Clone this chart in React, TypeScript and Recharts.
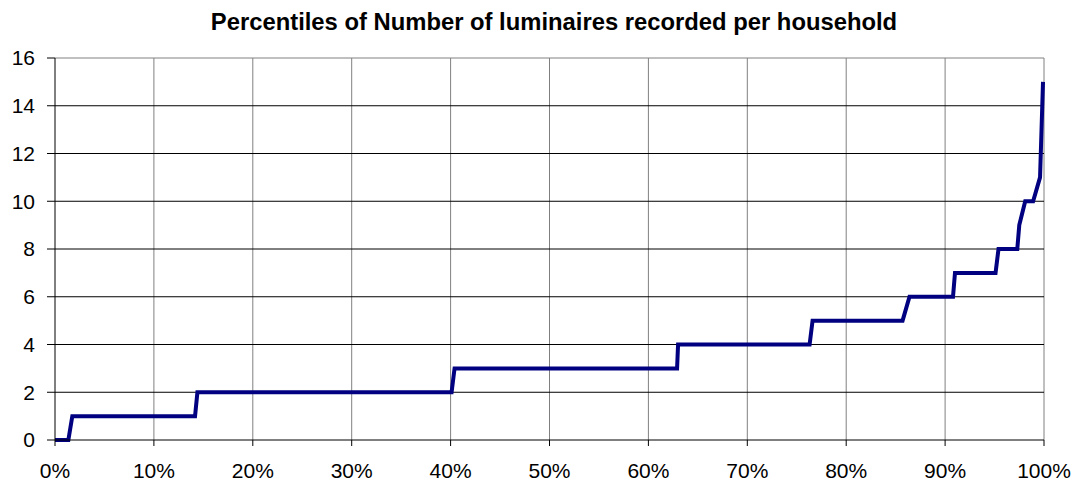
import { CartesianGrid, Line, LineChart, XAxis, YAxis } from 'recharts';

// Percentile (fraction 0..1) and number of luminaires at that percentile.
const PERCENTILES = [
  0, 0.0135, 0.0175, 0.1416, 0.144, 0.401, 0.404, 0.629, 0.630, 0.763, 0.766,
  0.857, 0.864, 0.908, 0.910, 0.951, 0.954, 0.973, 0.975, 0.981, 0.989, 0.996, 0.999,
];
const LUMINAIRES = [
  0, 0, 1, 1, 2, 2, 3, 3, 4, 4, 5,
  5, 6, 6, 7, 7, 8, 8, 9, 10, 10, 11, 15,
];
const X_TICKS = [0, 0.1, 0.2, 0.3, 0.4, 0.5, 0.6, 0.7, 0.8, 0.9, 1];
const Y_TICKS = [0, 2, 4, 6, 8, 10, 12, 14, 16];
const TITLE = 'Percentiles of Number of luminaires recorded per household';

const data = PERCENTILES.map((p, i) => ({ p, v: LUMINAIRES[i] }));

const FONT = '"Liberation Sans", Arial, sans-serif';
const tickStyle = { fontSize: 21, fill: '#000', fontFamily: FONT };

export default function App() {
  return (
    <div style={{ position: 'absolute', left: 0, top: 0, width: 1076, height: 483, background: '#fff' }}>
      <div
        style={{
          position: 'absolute',
          left: 0,
          width: 1108,
          top: 8,
          textAlign: 'center',
          fontFamily: FONT,
          fontWeight: 'bold',
          fontSize: 23.8,
          lineHeight: '28px',
          color: '#000',
        }}
      >
        {TITLE}
      </div>
      <LineChart
        width={1076}
        height={483}
        data={data}
        margin={{ top: 58, right: 32, bottom: 0, left: 0 }}
      >
        <CartesianGrid
          horizontal={false}
          stroke="#808080"
          verticalValues={X_TICKS.slice(1)}
        />
        <CartesianGrid
          vertical={false}
          stroke="#000"
          horizontalValues={[2, 4, 6, 8, 10, 12, 14]}
        />
        <CartesianGrid vertical={false} stroke="#808080" horizontalValues={[16]} />
        <XAxis
          dataKey="p"
          type="number"
          domain={[0, 1]}
          ticks={X_TICKS}
          interval={0}
          height={43}
          tickSize={6}
          tickMargin={17}
          axisLine={{ stroke: '#000' }}
          tickLine={{ stroke: '#000' }}
          tick={tickStyle}
          tickFormatter={(v) => `${Math.round(v * 100)}%`}
        />
        <YAxis
          type="number"
          domain={[0, 16]}
          ticks={Y_TICKS}
          interval={0}
          width={55}
          tickSize={8}
          tickMargin={12}
          axisLine={{ stroke: '#000' }}
          tickLine={{ stroke: '#000' }}
          tick={tickStyle}
        />
        <Line
          type="linear"
          dataKey="v"
          stroke="#000080"
          strokeWidth={4}
          dot={false}
          isAnimationActive={false}
        />
      </LineChart>
    </div>
  );
}
